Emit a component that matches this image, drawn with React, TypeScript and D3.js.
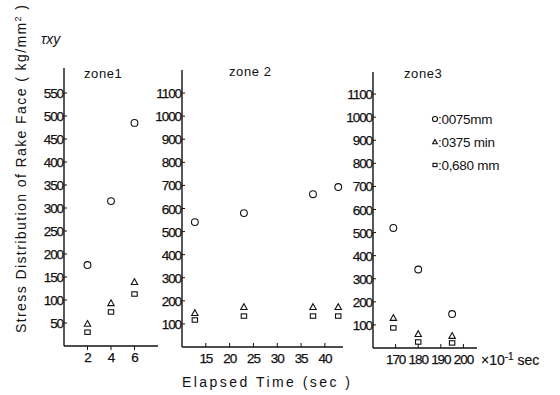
import * as d3 from 'd3'
import React from 'react'

// zone 1: elapsed time (sec), zone 2: sec, zone 3: x10^-1 sec
const zone1X = [2, 4, 6]
const zone1Circle = [176, 315, 485]
const zone1Tri = [48, 93, 139]
const zone1Sq = [30, 74, 113]

const zone2X = [12.7, 23, 37.5, 42.8]
const zone2Circle = [541, 580, 662, 693]
const zone2Tri = [147, 173, 173, 173]
const zone2Sq = [117, 134, 134, 134]

const zone3X = [169, 180, 195]
const zone3Circle = [520, 340, 147]
const zone3Tri = [130, 60, 52]
const zone3Sq = [87, 26, 22]

const zone1YTicks = [50, 100, 150, 200, 250, 300, 350, 400, 450, 500, 550]
const zone23YTicks = [100, 200, 300, 400, 500, 600, 700, 800, 900, 1000, 1100]
const zone1XTicks = [2, 4, 6]
const zone2XTicks = [15, 20, 25, 30, 35, 40]
const zone3XTicks = [170, 180, 190, 200]

const legendLabels = [':0075mm', ':0375 min', ':0,680 mm']

const font = "'Liberation Sans', Arial, sans-serif"
const ink = '#111'

type Mark = 'circle' | 'tri' | 'sq'

const Marker = ({ kind, cx, cy, s = 1 }: { kind: Mark, cx: number, cy: number, s?: number }) => {
    if (kind === 'circle') return <circle cx={cx} cy={cy} r={3.4 * s} fill="none" stroke={ink} strokeWidth={1.1} />
    if (kind === 'tri') return <path d={`M${cx},${cy - 3.4 * s}L${cx + 3.2 * s},${cy + 2.4 * s}L${cx - 3.2 * s},${cy + 2.4 * s}Z`} fill="none" stroke={ink} strokeWidth={1.1} />
    return <rect x={cx - 2.7 * s} y={cy - 2.2 * s} width={5.4 * s} height={4.4 * s} fill="none" stroke={ink} strokeWidth={1.1} />
}

const Zone = (p: {
    x: d3.ScaleLinear<number, number>, y: d3.ScaleLinear<number, number>,
    top: number, yTicks: number[], xTicks: number[], xs: number[],
    circle: number[], tri: number[], sq: number[], title: string, titleX: number, titleY: number,
    tickDir: number
}) => {
    const x0 = p.x.range()[0], x1 = p.x.range()[1]
    const y0 = p.y(0)
    return (
        <g>
            <line x1={x0} x2={x0} y1={p.top} y2={y0} stroke={ink} strokeWidth={1.4} />
            <line x1={x0} x2={x1} y1={y0} y2={y0} stroke={ink} strokeWidth={1.4} />
            {p.yTicks.map(t => (
                <g key={t}>
                    <line x1={x0} x2={x0 + 3} y1={p.y(t)} y2={p.y(t)} stroke={ink} strokeWidth={1} />
                    <text x={x0 - 1} y={p.y(t) + 5} textAnchor="end" fontSize={13.5} fontFamily={font} letterSpacing={-1.1}
                        fill={ink} stroke={ink} strokeWidth={0.25}>{t}</text>
                </g>
            ))}
            {p.xTicks.map(t => (
                <g key={t}>
                    <line x1={p.x(t)} x2={p.x(t)} y1={y0} y2={y0 + 4 * p.tickDir} stroke={ink} strokeWidth={1} />
                    <text x={p.x(t)} y={y0 + 16} textAnchor="middle" fontSize={13.5} fontFamily={font} letterSpacing={-1.1}
                        fill={ink} stroke={ink} strokeWidth={0.25}>{t}</text>
                </g>
            ))}
            {p.xs.map((v, i) => <Marker key={'c' + i} kind="circle" cx={p.x(v)} cy={p.y(p.circle[i])} />)}
            {p.xs.map((v, i) => <Marker key={'t' + i} kind="tri" cx={p.x(v)} cy={p.y(p.tri[i])} />)}
            {p.xs.map((v, i) => <Marker key={'s' + i} kind="sq" cx={p.x(v)} cy={p.y(p.sq[i])} />)}
            <text x={p.titleX} y={p.titleY} fontSize={13} fontFamily={font} letterSpacing={0.6} fill={ink}>{p.title}</text>
        </g>
    )
}

export default function App() {
    const x1 = d3.scaleLinear().domain([0, 8]).range([64, 158])
    const y1 = d3.scaleLinear().domain([0, 600]).range([346, 70])
    const x2 = d3.scaleLinear().domain([10, 43.8]).range([182, 343])
    const y2 = d3.scaleLinear().domain([0, 1200]).range([347, 70])
    const x3 = d3.scaleLinear().domain([160, 206]).range([373, 477])
    const y3 = d3.scaleLinear().domain([0, 1200]).range([348, 71])
    const legendY = d3.scalePoint<number>().domain([0, 1, 2]).range([120, 166])
    const kinds: Mark[] = ['circle', 'tri', 'sq']

    return (
        <svg width={560} height={395} viewBox="0 0 560 395" style={{ position: 'absolute', left: 0, top: 0, background: '#fff' }}>
            <rect width={560} height={395} fill="#fff" />
            <Zone x={x1} y={y1} top={68} yTicks={zone1YTicks} xTicks={zone1XTicks} xs={zone1X}
                circle={zone1Circle} tri={zone1Tri} sq={zone1Sq} title="zone1" titleX={84} titleY={78} tickDir={1} />
            <Zone x={x2} y={y2} top={70} yTicks={zone23YTicks} xTicks={zone2XTicks} xs={zone2X}
                circle={zone2Circle} tri={zone2Tri} sq={zone2Sq} title="zone 2" titleX={229} titleY={76} tickDir={-1} />
            <Zone x={x3} y={y3} top={72} yTicks={zone23YTicks} xTicks={zone3XTicks} xs={zone3X}
                circle={zone3Circle} tri={zone3Tri} sq={zone3Sq} title="zone3" titleX={404} titleY={78} tickDir={-1} />
            {legendLabels.map((l, i) => (
                <g key={l}>
                    <Marker kind={kinds[i]} cx={435} cy={legendY(i)! - 1} s={0.75} />
                    <text x={438} y={legendY(i)! + 4} fontSize={13.5} fontFamily={font} letterSpacing={-0.3} fill={ink}>{l}</text>
                </g>
            ))}
            <text x={481} y={365} fontSize={14} fontFamily={font} fill={ink} stroke={ink} strokeWidth={0.2}>×10<tspan dy={-5} fontSize={10}>-1</tspan><tspan dy={5}> sec</tspan></text>
            <text x={182} y={387} fontSize={14} fontFamily={font} fill={ink} textLength={168} lengthAdjust="spacing">Elapsed Time  (sec )</text>
            <text transform="translate(26,333) rotate(-90)" fontSize={14} fontFamily={font} fill={ink} textLength={328} lengthAdjust="spacing">
                Stress Distribution of Rake Face ( kg/mm<tspan dy={-5} fontSize={9}>2</tspan><tspan dy={5}> )</tspan>
            </text>
            <text x={41} y={44} fontSize={14} fontFamily={font} fontStyle="italic" fill={ink}>τxy</text>
        </svg>
    )
}
